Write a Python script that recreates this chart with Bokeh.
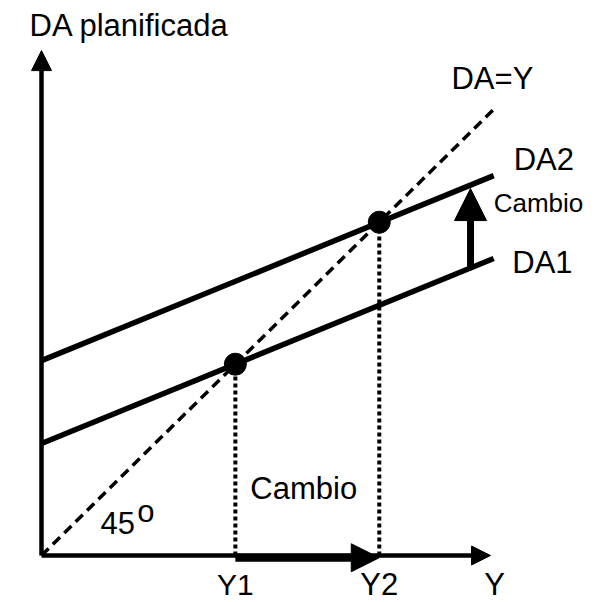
from bokeh.plotting import figure
from bokeh.models import Arrow, NormalHead, Range1d
from bokeh.core.properties import value
from bokeh.embed import file_html
from bokeh.resources import INLINE

# ---- data (arbitrary units) ----
line45_x = [0.0, 10.0]
line45_y = [0.0, 10.0]
da_x = [0.0, 9.96]
da1_y = [2.5, 6.63]
da2_y = [4.35, 8.48]
eq_x = [4.27, 7.44]          # Y1, Y2
eq_y = [4.27, 7.44]
tick_labels = ["Y1", "Y2"]
shift_x = 9.45
shift_from = 6.42
shift_to = 8.19
yaxis_top = 11.27
xaxis_end = 9.89

FONT = value("Liberation Sans")

# figure geometry: page px -> data units
SX, SY = 45.4, 44.8
OX, OY = 41, 555
W, H = 595, 602
x0 = (0 - OX) / SX
x1 = (W - OX) / SX
y0 = (OY - H) / SY
y1 = OY / SY
DY = 0.245  # text baseline correction

p = figure(width=W, height=H, output_backend="svg", toolbar_location=None,
           x_range=Range1d(x0, x1), y_range=Range1d(y0, y1),
           min_border=0, outline_line_color=None)
p.axis.visible = False
p.grid.visible = False
p.background_fill_color = "white"
p.border_fill_color = "white"

# 45 degree line
p.line(line45_x, line45_y, line_color="black", line_width=3.5, line_dash="10 6")

# DA lines
p.line(da_x, da1_y, line_color="black", line_width=5.5)
p.line(da_x, da2_y, line_color="black", line_width=5.5)

# dotted verticals
for xv, yv in zip(eq_x, eq_y):
    p.line([xv, xv], [0, yv], line_color="black", line_width=4, line_dash="4 3")

# axes with arrowheads
p.add_layout(Arrow(end=NormalHead(size=20, fill_color="black", line_color="black"),
                   x_start=0, y_start=0, x_end=0, y_end=yaxis_top,
                   line_width=4.5, line_color="black"))
p.add_layout(Arrow(end=NormalHead(size=19, fill_color="black", line_color="black"),
                   x_start=0, y_start=0, x_end=xaxis_end, y_end=0,
                   line_width=4.5, line_color="black"))

# shift arrow on the horizontal axis
p.add_layout(Arrow(end=NormalHead(size=28, fill_color="black", line_color="black"),
                   x_start=eq_x[0], y_start=-0.05, x_end=eq_x[1], y_end=-0.05,
                   line_width=8, line_color="black"))

# vertical shift arrow between DA1 and DA2
p.add_layout(Arrow(end=NormalHead(size=32, fill_color="black", line_color="black"),
                   x_start=shift_x, y_start=shift_from, x_end=shift_x, y_end=shift_to,
                   line_width=7, line_color="black"))

# equilibrium dots
p.scatter(eq_x, eq_y, size=22, color="black")

def txt(x, y, s, size, align="left", baseline="alphabetic"):
    p.text(x=[x], y=[y + DY], text=[s], text_font=FONT, text_font_size=f"{size}px",
           text_color="black", text_align=align, text_baseline=baseline)

txt(-0.264, 11.585, "DA planificada", 31)
txt(9.03, 10.40, "DA=Y", 31)
txt(10.40, 8.59, "DA2", 31)
txt(9.96, 7.63, "Cambio", 26)
txt(10.37, 6.29, "DA1", 31)
txt(4.60, 1.25, "Cambio", 31)
txt(1.30, 0.49, "45", 31)
txt(2.11, 0.737, "o", 31)
txt(eq_x[0], -0.89, tick_labels[0], 30, align="center")
txt(eq_x[1], -0.89, tick_labels[1], 31, align="center")
txt(9.98, -0.89, "Y", 31, align="center")

open("out.html", "w").write(file_html(p, INLINE))
